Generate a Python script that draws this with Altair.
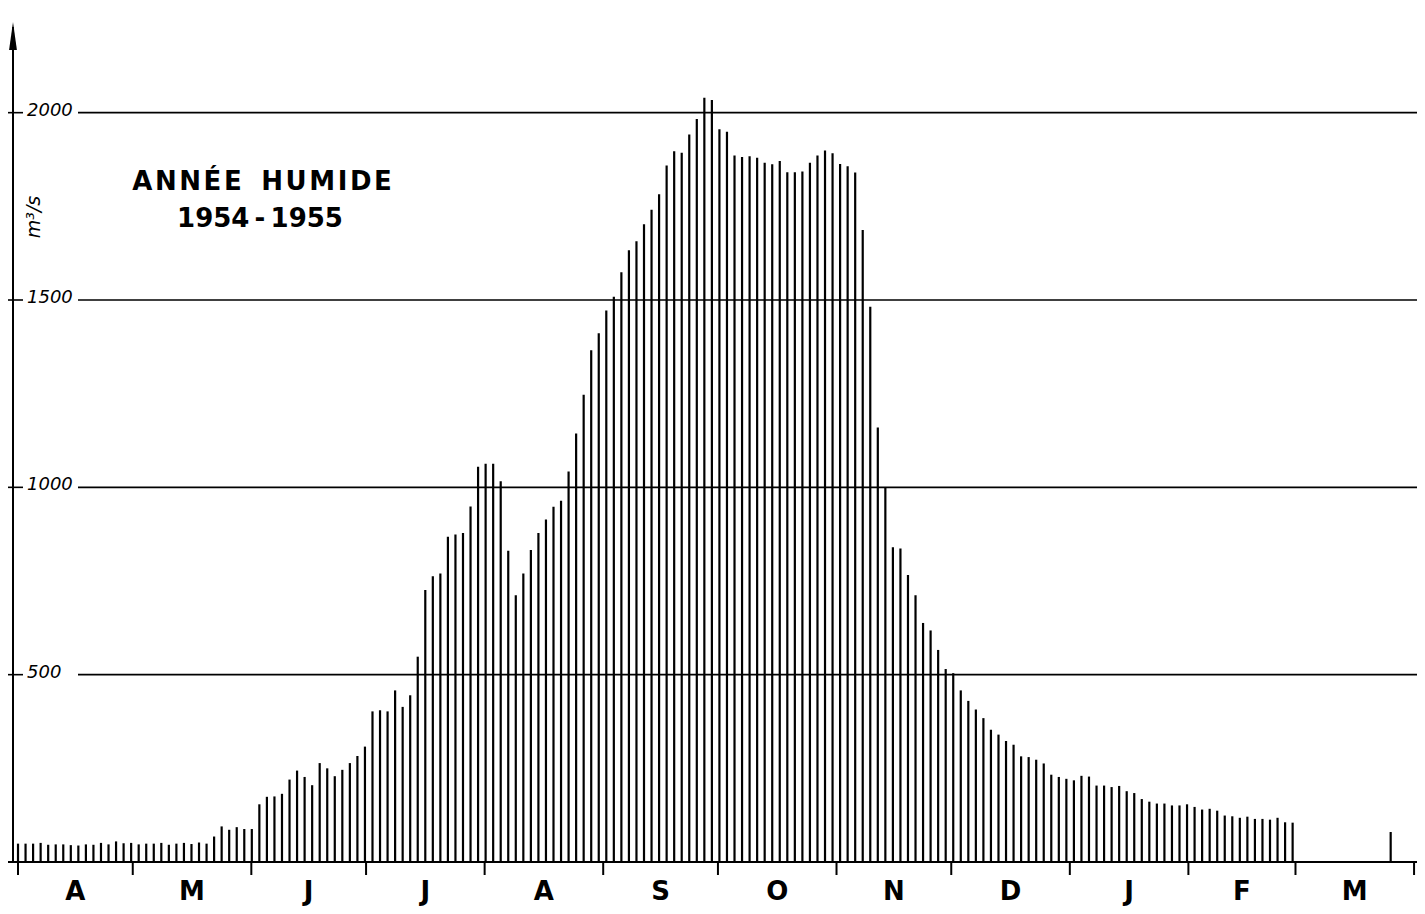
import altair as alt
import pandas as pd

# ---- data (discharge, m3/s, one bar every ~2 days from 1 April 1954) ----
VALUES = [
    49, 49, 49, 51, 46, 47, 47, 45, 44, 47,
    46, 51, 47, 55, 50, 51, 47, 49, 49, 51,
    46, 49, 51, 48, 52, 49, 68, 95, 86, 93,
    88, 88, 154, 174, 175, 182, 220, 244, 227, 205,
    264, 250, 229, 246, 264, 283, 308, 402,
    405, 402, 458, 414, 445, 548, 726, 763, 770, 868,
    874, 878, 949, 1055, 1063, 1063, 1016, 831, 712, 770,
    833, 878, 914, 948, 964, 1042, 1144, 1247, 1366, 1411,
    1472, 1509, 1574, 1633, 1657, 1702, 1741, 1782, 1859, 1897,
    1893, 1942, 1983, 2040, 2034,
    1956, 1949, 1886, 1882, 1884, 1880, 1866, 1862, 1871, 1841,
    1841, 1843, 1866, 1886, 1899, 1892, 1863, 1857, 1840, 1687,
    1482, 1160, 1001, 840, 837, 766, 712, 638, 618, 566,
    515, 504, 458, 430, 407, 384, 353, 340, 323, 313,
    282, 280, 273, 263, 233, 227, 222,
    218, 230, 228, 204, 204, 200, 203, 189, 184, 168,
    161, 156, 156, 151, 151, 154, 147, 140, 142, 137,
    124, 122, 118, 121, 115, 115, 113, 118, 106, 105,
]
LATE_INDEX = [182]
LATE_VALUES = [80]

MONTHS = ["A", "M", "J", "J", "A", "S", "O", "N", "D", "J", "F", "M"]
MONTH_DAYS = [30, 31, 30, 31, 31, 30, 31, 30, 31, 31, 28, 31]
GRID_VALUES = [500, 1000, 1500, 2000]
GRID_LABELS = ["500", "1000", "1500", "2000"]
TITLE_1 = "A\u200aN\u200aN\u200aÉ\u200aE\u2009 \u2009H\u200aU\u200aM\u200aI\u200aD\u200aE"
TITLE_2 = "1954\u2009-\u20091955"
UNIT = "m³/s"

DAYS_PER_BAR = 365 / 185.1

# ---- tables ----
bars = pd.DataFrame({
    "day": [i * DAYS_PER_BAR for i in range(len(VALUES))] + [i * DAYS_PER_BAR for i in LATE_INDEX],
    "value": VALUES + LATE_VALUES,
})
starts = [0]
for d in MONTH_DAYS:
    starts.append(starts[-1] + d)
ticks = pd.DataFrame({"day": starts})
labels = pd.DataFrame({
    "day": [(starts[i] + starts[i + 1]) / 2 for i in range(len(MONTHS))],
    "m": MONTHS,
})
grid = pd.DataFrame({"value": GRID_VALUES, "label": GRID_LABELS})
one = pd.DataFrame({"k": [0]})

W, H = 1404, 843
xs = alt.Scale(domain=[-1.31, 365.77], nice=False, zero=False)
ys = alt.Scale(domain=[0, 2250], nice=False, zero=False)

bar_layer = alt.Chart(bars).mark_rule(color="black", strokeWidth=2.2).encode(
    x=alt.X("day:Q", scale=xs, axis=None),
    y=alt.Y("value:Q", scale=ys, axis=None),
    y2=alt.datum(0),
)

grid_layer = alt.Chart(grid).mark_rule(color="black", strokeWidth=1.6).encode(
    y=alt.Y("value:Q", scale=ys, axis=None),
    x=alt.value(65), x2=alt.value(W),
)
ytick_layer = alt.Chart(grid).mark_rule(color="black", strokeWidth=1.6).encode(
    y=alt.Y("value:Q", scale=ys, axis=None),
    x=alt.value(-5), x2=alt.value(10),
)
glabel_layer = alt.Chart(grid).mark_text(
    align="left", baseline="alphabetic", dy=3, fontSize=18, fontStyle="italic",
    font="DejaVu Sans", color="black",
).encode(
    y=alt.Y("value:Q", scale=ys, axis=None),
    x=alt.value(14),
    text="label:N",
)

baseline_layer = alt.Chart(one).mark_rule(color="black", strokeWidth=2).encode(
    y=alt.value(H), x=alt.value(-5), x2=alt.value(W),
)
yaxis_layer = alt.Chart(one).mark_rule(color="black", strokeWidth=2).encode(
    x=alt.value(0), y=alt.value(8), y2=alt.value(H),
)
arrow_layer = alt.Chart(one).mark_point(
    shape="M0,-1L0.28,1L-0.28,1Z", filled=True, color="black", opacity=1, size=784,
).encode(x=alt.value(0), y=alt.value(17))

mtick_layer = alt.Chart(ticks).mark_rule(color="black", strokeWidth=2).encode(
    x=alt.X("day:Q", scale=xs, axis=None),
    y=alt.value(H), y2=alt.value(H + 13),
)
mlabel_layer = alt.Chart(labels).mark_text(
    align="center", baseline="alphabetic", fontSize=26, fontWeight="bold",
    font="DejaVu Sans", color="black",
).encode(
    x=alt.X("day:Q", scale=xs, axis=None),
    y=alt.value(H + 38),
    text="m:N",
)

title1_layer = alt.Chart(one).mark_text(
    align="center", baseline="alphabetic", fontSize=26, fontWeight="bold",
    font="DejaVu Sans", color="black", text=TITLE_1,
).encode(x=alt.value(249), y=alt.value(171))
title2_layer = alt.Chart(one).mark_text(
    align="center", baseline="alphabetic", fontSize=26, fontWeight="bold",
    font="DejaVu Sans", color="black", text=TITLE_2,
).encode(x=alt.value(247), y=alt.value(208))
unit_layer = alt.Chart(one).mark_text(
    angle=270, align="center", baseline="middle", fontSize=19, fontStyle="italic",
    font="DejaVu Sans", color="black", text=UNIT,
).encode(x=alt.value(21), y=alt.value(198))

chart = alt.layer(
    grid_layer, ytick_layer, glabel_layer, bar_layer, baseline_layer, yaxis_layer,
    arrow_layer, mtick_layer, mlabel_layer, title1_layer, title2_layer, unit_layer,
).properties(
    width=W, height=H,
    padding={"left": 5, "top": 11, "right": 0, "bottom": 44},
    autosize=alt.AutoSizeParams(type="none"),
    background="white",
).configure_view(stroke=None)

chart.save("out.html", embed_options={"renderer": "svg", "actions": False})
